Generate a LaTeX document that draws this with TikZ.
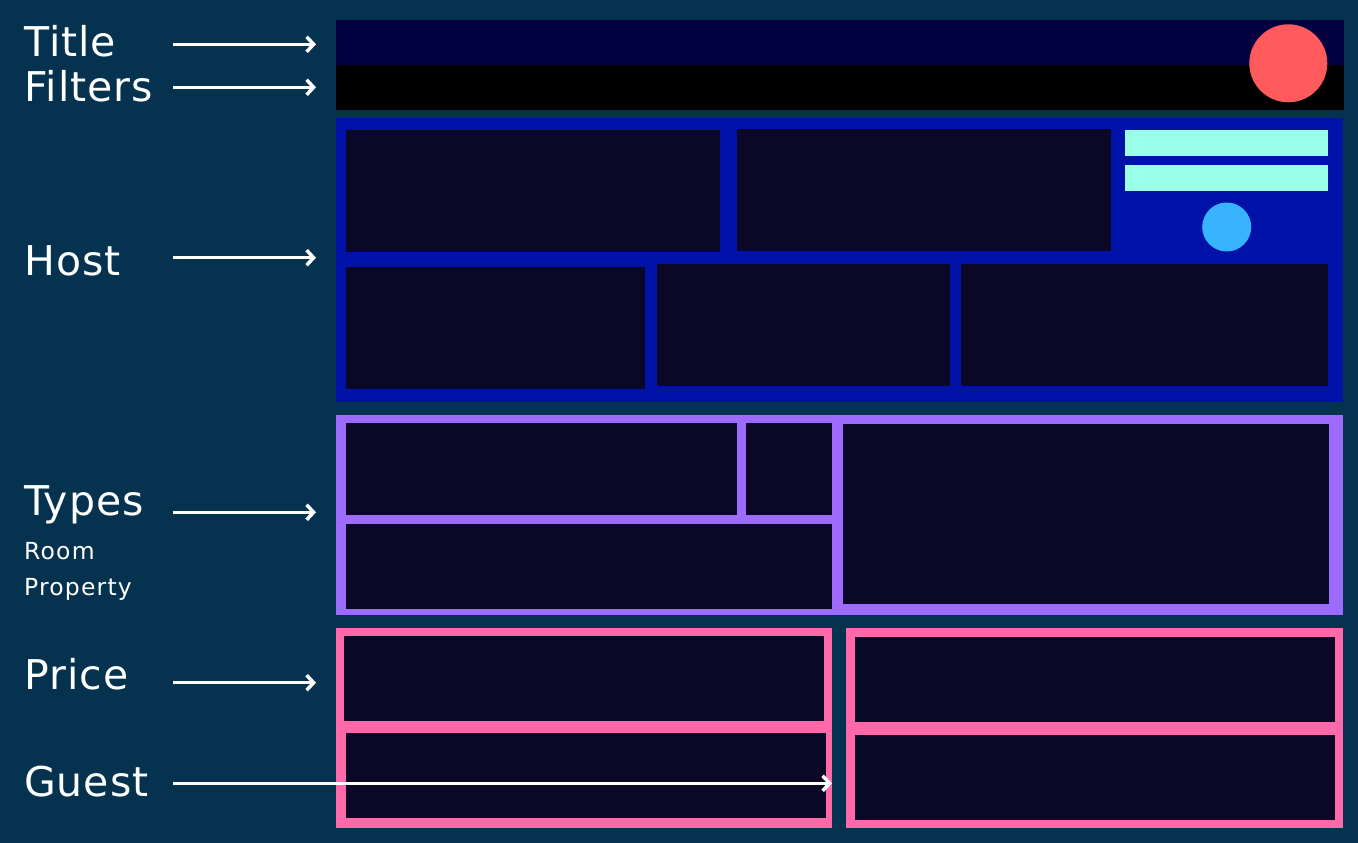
\documentclass[tikz,border=0pt]{standalone}
\usepackage{fontspec}
\setmainfont{DejaVu Sans}
\newfontfamily\lblfont[LetterSpace=2.5]{DejaVu Sans}
\newfontfamily\sublblfont[LetterSpace=5]{DejaVu Sans}
\usetikzlibrary{fit,arrows.meta}
\definecolor{bg}{HTML}{05324F}
\definecolor{titlebar}{HTML}{03003F}
\definecolor{hostblue}{HTML}{0012A8}
\definecolor{inner}{HTML}{0A0727}
\definecolor{mint}{HTML}{99FFE6}
\definecolor{skyb}{HTML}{38B4FF}
\definecolor{coral}{HTML}{FF5A5C}
\definecolor{lilac}{HTML}{9D6BFF}
\definecolor{rose}{HTML}{FF69A9}
\tikzset{
  blk/.style={inner sep=0pt, outer sep=0pt, draw=none, fill=#1},
  lbl/.style={text=white, anchor=base west, inner sep=0pt, font=\lblfont\fontsize{41}{48}\selectfont},
  sublbl/.style={text=white, anchor=base west, inner sep=0pt, font=\sublblfont\fontsize{23.5}{28}\selectfont},
  arr/.style={draw=white, line width=3.5pt, -{Straight Barb[length=7pt,width=15pt]}},
  dot/.style={circle, inner sep=0pt, outer sep=0pt, draw=none, fill=#1}
}
\newcommand{\blkbox}[6]{\node[blk=#6, fit={(#2,#3) (#4,#5)}] (#1) {};}
\begin{document}
\begin{tikzpicture}[x=1pt,y=-1pt]
\fill[bg] (0,0) rectangle (1358,843);
\useasboundingbox (0,0) rectangle (1358,843);
% top bars
\blkbox{title}{336}{20}{1344}{65}{titlebar}
\blkbox{filters}{336}{65}{1344}{110}{black}
\node[dot=coral, minimum size=78pt] (logo) at (1288.3,63.3) {};
% host
\blkbox{host}{336}{117.7}{1343.3}{401.7}{hostblue}
\blkbox{h1}{346}{130}{720}{251.7}{inner}
\blkbox{h2}{737}{129}{1111}{251}{inner}
\blkbox{m1}{1125}{130}{1328}{155.7}{mint}
\blkbox{m2}{1125}{165}{1328}{190.7}{mint}
\node[dot=skyb, minimum size=49pt] (hdot) at (1226.7,227) {};
\blkbox{h4}{346}{267}{645}{388.7}{inner}
\blkbox{h5}{657}{264}{950}{385.7}{inner}
\blkbox{h6}{961}{264}{1328}{385.7}{inner}
% types
\blkbox{types}{335.5}{415}{1343}{615}{lilac}
\blkbox{t1}{346}{423}{737}{515}{inner}
\blkbox{t2}{746}{423}{832}{515}{inner}
\blkbox{t3}{346}{524}{832}{609}{inner}
\blkbox{t4}{843}{424}{1329}{603.7}{inner}
% price / guest
\blkbox{priceL}{336}{628}{832}{827.7}{rose}
\blkbox{p1}{344}{636}{824}{721}{inner}
\blkbox{p2}{346}{733}{826}{818}{inner}
\blkbox{priceR}{846}{628}{1343}{827.7}{rose}
\blkbox{p3}{855}{637}{1335}{722}{inner}
\blkbox{p4}{855}{735}{1335}{820}{inner}
% labels
\node[lbl] (lTitle) at (24,56.7) {Title};
\node[lbl] (lFilters) at (24,101.7) {Filters};
\node[lbl] (lHost) at (24,275) {Host};
\node[lbl] (lTypes) at (24,515) {Types};
\node[sublbl] (lRoom) at (24,559.3) {Room};
\node[sublbl] (lProperty) at (24,595) {Property};
\node[lbl] (lPrice) at (24,689.3) {Price};
\node[lbl] (lGuest) at (24,796.7) {Guest};
% arrow starts
\coordinate (aTitle) at (173,44.3);
\coordinate (aFilters) at (173,87.3);
\coordinate (aHost) at (173,257.7);
\coordinate (aTypes) at (173,512.3);
\coordinate (aPrice) at (173,682.7);
\coordinate (aGuest) at (173,783.3);
\draw[arr, shorten >=20pt] (aTitle) -- (aTitle -| title.west);
\draw[arr, shorten >=20pt] (aFilters) -- (aFilters -| filters.west);
\draw[arr, shorten >=20pt] (aHost) -- (aHost -| host.west);
\draw[arr, shorten >=19.5pt] (aTypes) -- (aTypes -| types.west);
\draw[arr, shorten >=20pt] (aPrice) -- (aPrice -| priceL.west);
\draw[arr] (aGuest) -- (aGuest -| priceL.east);
\end{tikzpicture}
\end{document}
